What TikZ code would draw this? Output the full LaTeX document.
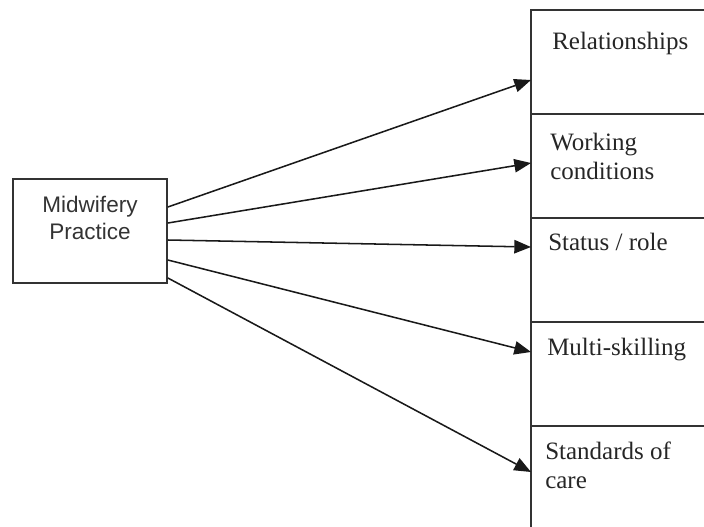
\documentclass[tikz,border=0pt]{standalone}
\usepackage{fontspec}
\setmainfont{Liberation Serif}
\newfontfamily\arialfont{Liberation Sans}
\usetikzlibrary{arrows.meta,positioning,calc}

\begin{document}
\begin{tikzpicture}[x=0.75pt,y=0.75pt,yscale=-1,xscale=1,
  srcbox/.style={draw=black!80,line width=1.3pt,minimum width=115.5pt,minimum height=78pt,inner sep=0pt},
  itembox/.style={draw=black!80,line width=1.3pt,minimum width=135pt,minimum height=78pt,inner sep=0pt,outer sep=0pt},
  srctext/.style={inner sep=0pt,align=center,text=black!80,font=\arialfont\fontsize{16.9pt}{20.5pt}\selectfont},
  itemtext/.style={anchor=north west,inner sep=0pt,align=left,text=black!85,font=\fontsize{18.75pt}{22pt}\selectfont},
  link/.style={draw=black!90,line width=1.15pt,-{Triangle[length=12.5pt,width=10pt]}}]
\useasboundingbox (0,0) rectangle (704,526);

%Shape: Rectangle
\node[srcbox] (mp) at (90,231) {};
%Shape: Rectangle
\node[itembox,anchor=north west] (rel) at (531,10) {};
\node[itembox,below=0pt of rel] (work) {};
\node[itembox,below=0pt of work] (stat) {};
\node[itembox,below=0pt of stat] (multi) {};
\node[itembox,below=0pt of multi] (std) {};

%Straight Lines
\draw[link] ($(mp.east)+(0,-24)$) -- ($(rel.west)+(0,18)$);
%Straight Lines
\draw[link] ($(mp.east)+(0,-8)$) -- ($(work.west)+(0,-3)$);
%Straight Lines
\draw[link] ($(mp.east)+(0,9)$) -- ($(stat.west)+(0,-23)$);
%Straight Lines
\draw[link] ($(mp.east)+(0,29)$) -- ($(multi.west)+(0,-22)$);
%Straight Lines
\draw[link] ($(mp.east)+(0,47)$) -- ($(std.west)+(0,-6)$);

% Text Node
\node[srctext] (mplbl) at ($(mp.center)+(0,-13)$) {Midwifery\\Practice};
% Text Node
\node[itemtext] (rellbl) at ($(rel.north west)+(21,21.5)$) {Relationships};
% Text Node
\node[itemtext] (worklbl) at ($(work.north west)+(19,18.5)$) {Working\\conditions};
% Text Node
\node[itemtext] (statlbl) at ($(stat.north west)+(17,14.5)$) {Status / role};
% Text Node
\node[itemtext] (multilbl) at ($(multi.north west)+(16,15.5)$) {Multi-skilling};
% Text Node
\node[itemtext] (stdlbl) at ($(std.north west)+(14,15.5)$) {Standards of\\care};

\end{tikzpicture}
\end{document}
